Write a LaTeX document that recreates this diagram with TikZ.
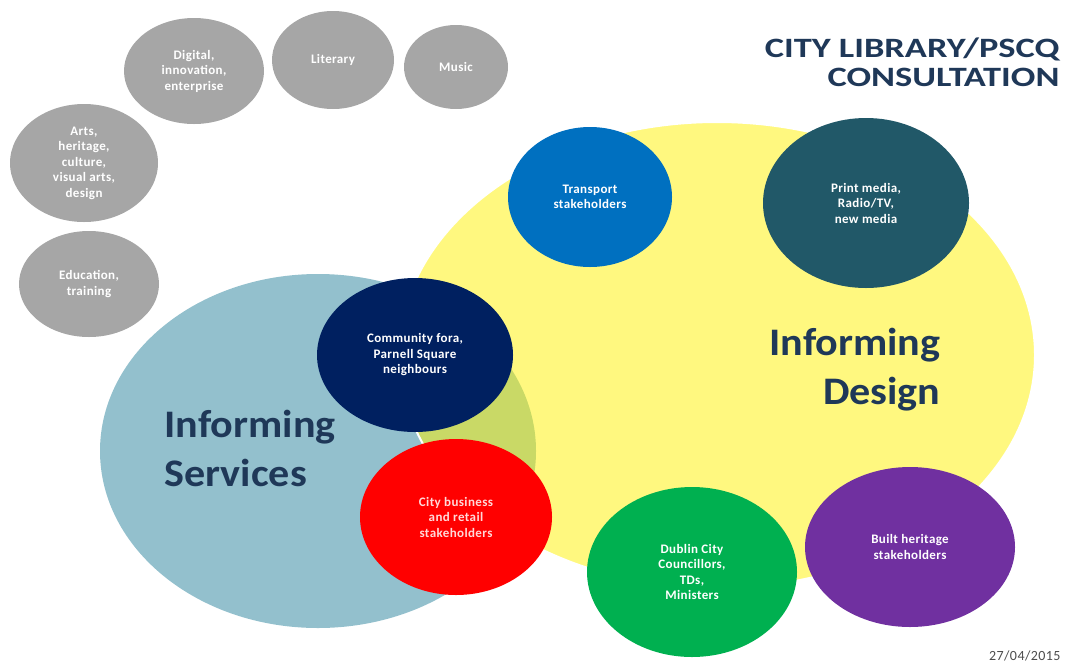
\documentclass[tikz,border=0pt]{standalone}
\usepackage{fontspec}
\setmainfont{Carlito}
\newfontfamily\titlefont[FakeStretch=1.3]{Carlito}
\newfontfamily\bigfont[FakeStretch=1.08]{Carlito}
\newfontfamily\smallfont[LetterSpace=3]{Carlito}
\usetikzlibrary{shapes.geometric}
\definecolor{bubblegrey}{RGB}{166,166,166}
\definecolor{servblue}{RGB}{147,192,205}
\definecolor{titleblue}{RGB}{31,56,88}
\definecolor{transblue}{RGB}{0,112,192}
\definecolor{mediateal}{RGB}{33,88,104}
\definecolor{commnavy}{RGB}{0,32,96}
\definecolor{bizred}{RGB}{255,0,0}
\definecolor{cllrgreen}{RGB}{0,176,80}
\definecolor{herpurple}{RGB}{112,48,160}
\begin{document}
\begin{tikzpicture}[x=1pt,y=-1pt,
    bubble/.style={ellipse,inner sep=0pt,align=center,text=white,font=\smallfont\bfseries\fontsize{13}{15.5}\selectfont},
    greybubble/.style={bubble,fill=bubblegrey},
    biglabel/.style={text=titleblue,font=\bigfont\bfseries\fontsize{39}{49}\selectfont}]
    \useasboundingbox (0,0) rectangle (1067,662);

    % the two big areas
    \node (S) at (318,451) [ellipse,fill=servblue,minimum width=436pt,minimum height=354pt]{};
    \node (D) at (717,355) [ellipse,fill=yellow,fill opacity=0.5,draw=white,line width=2pt,minimum width=636pt,minimum height=466pt]{};

    % interest groups
    \node (T1) at (194,71) [greybubble,minimum width=140pt,minimum height=106pt]{Digital,\\innovation,\\enterprise};
    \node (T2) at (333,60) [greybubble,minimum width=122pt,minimum height=98pt]{Literary};
    \node (T3) at (456,67) [greybubble,minimum width=104pt,minimum height=84pt]{Music};
    \node (T4) at (84,163) [greybubble,minimum width=148pt,minimum height=118pt]{Arts,\\heritage,\\culture,\\visual arts,\\design};
    \node (T5) at (89,284) [greybubble,minimum width=140pt,minimum height=106pt]{Education,\\training};

    % stakeholders
    \node (K1) at (590,197) [bubble,fill=transblue,minimum width=164pt,minimum height=140pt]{Transport\\stakeholders};
    \node (K2) at (866,203) [bubble,fill=mediateal,minimum width=206pt,minimum height=170pt]{Print media,\\Radio/TV,\\new media};
    \node (K3) at (415,355) [bubble,fill=commnavy,minimum width=196pt,minimum height=154pt]{Community fora,\\Parnell Square\\neighbours};
    \node (K4) at (456,517) [bubble,fill=bizred,text=white!85!red,minimum width=192pt,minimum height=156pt]{City business\\and retail\\stakeholders};
    \node (K5) at (692,572) [bubble,fill=cllrgreen,minimum width=210pt,minimum height=170pt]{Dublin City\\Councillors,\\TDs,\\Ministers};
    \node (K6) at (910,547) [bubble,fill=herpurple,minimum width=210pt,minimum height=160pt]{Built heritage\\stakeholders};

    \node (SL) at (161,486) [biglabel,anchor=base west,align=left]{Informing\\Services};
    \node (DL) at (944,404) [biglabel,anchor=base east,align=right]{Informing\\Design};

    \node (TT) at (1063,86) [anchor=base east,align=right,text=titleblue,font=\titlefont\bfseries\fontsize{28}{29}\selectfont]{CITY LIBRARY/PSCQ\\CONSULTATION};
    \node (DT) at (1064,660) [anchor=base east,text=black!70,font=\smallfont\fontsize{14}{16}\selectfont]{27/04/2015};
\end{tikzpicture}
\end{document}
